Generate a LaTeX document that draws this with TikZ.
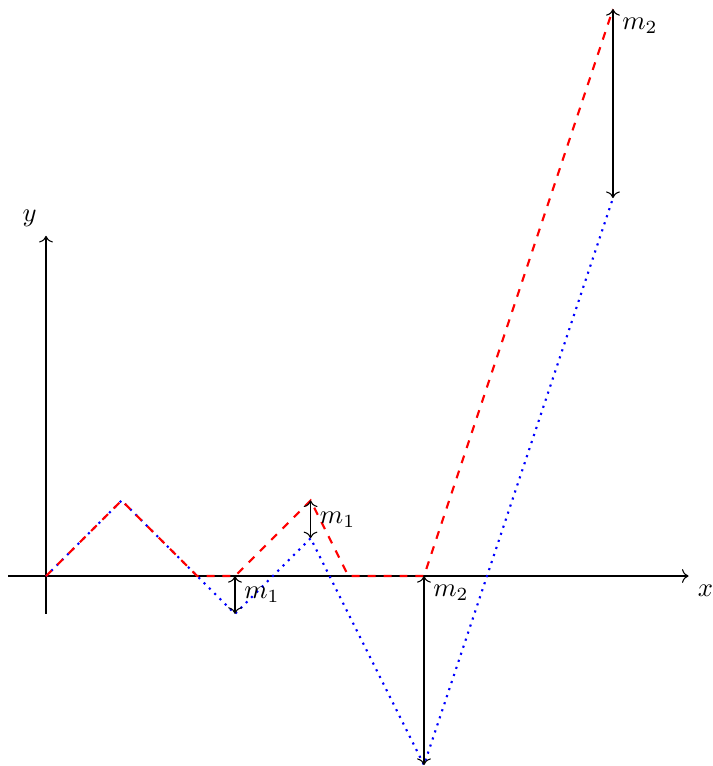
\documentclass[tikz,border=0pt]{standalone}
\usepackage{tikz}
\usetikzlibrary{arrows.meta, positioning}

\begin{document}
\begin{tikzpicture}[
  x=0.5cm, y=0.5cm,
  axis/.style   = {->},
  upper/.style  = {red, dashed, thick},
  lower/.style  = {blue, dotted, thick},
  gap/.style    = {<->},
  lbl/.style    = {font=\normalsize}
]
\useasboundingbox (-1.217,-5.026) rectangle (17.646,15.24);

%% AXES
\coordinate (xl) at (-1,0);
\coordinate (xr) at (17,0);
\coordinate (yb) at (0,-1);
\coordinate (yt) at (0,9);
\draw[axis] (xl) -- (xr) node[below right] (xlab) {$x$};
\draw[axis] (yb) -- (yt) node[above left] (ylab) {$y$};

%% POINTS
\coordinate (a1) at (5,0);   \coordinate (b1) at (5,-1);
\coordinate (a2) at (7,2);   \coordinate (b2) at (7,1);
\coordinate (a3) at (10,0);  \coordinate (b3) at (10,-5);
\coordinate (a4) at (15,15); \coordinate (b4) at (15,10);

%% CURVES
\draw[lower] (0,0) -- (2,2) -- (4,0) -- (b1) -- (b2) -- (b3) -- (b4);
\draw[upper] (0,0) -- (2,2) -- (4,0) -- (a1) -- (a2) -- (8,0) -- (a3) -- (a4);

%% GAPS
\draw[gap] (a1) -- (b1) node[midway, right] (g1) {$m_1$};
\draw[gap] (a2) -- (b2) node[midway, right] (g2) {$m_1$};
\draw[gap] (a3) node[below right] (g3) {$m_2$} -- (b3);
\draw[gap] (a4) node[below right] (g4) {$m_2$} -- (b4);
\end{tikzpicture}
\end{document}
